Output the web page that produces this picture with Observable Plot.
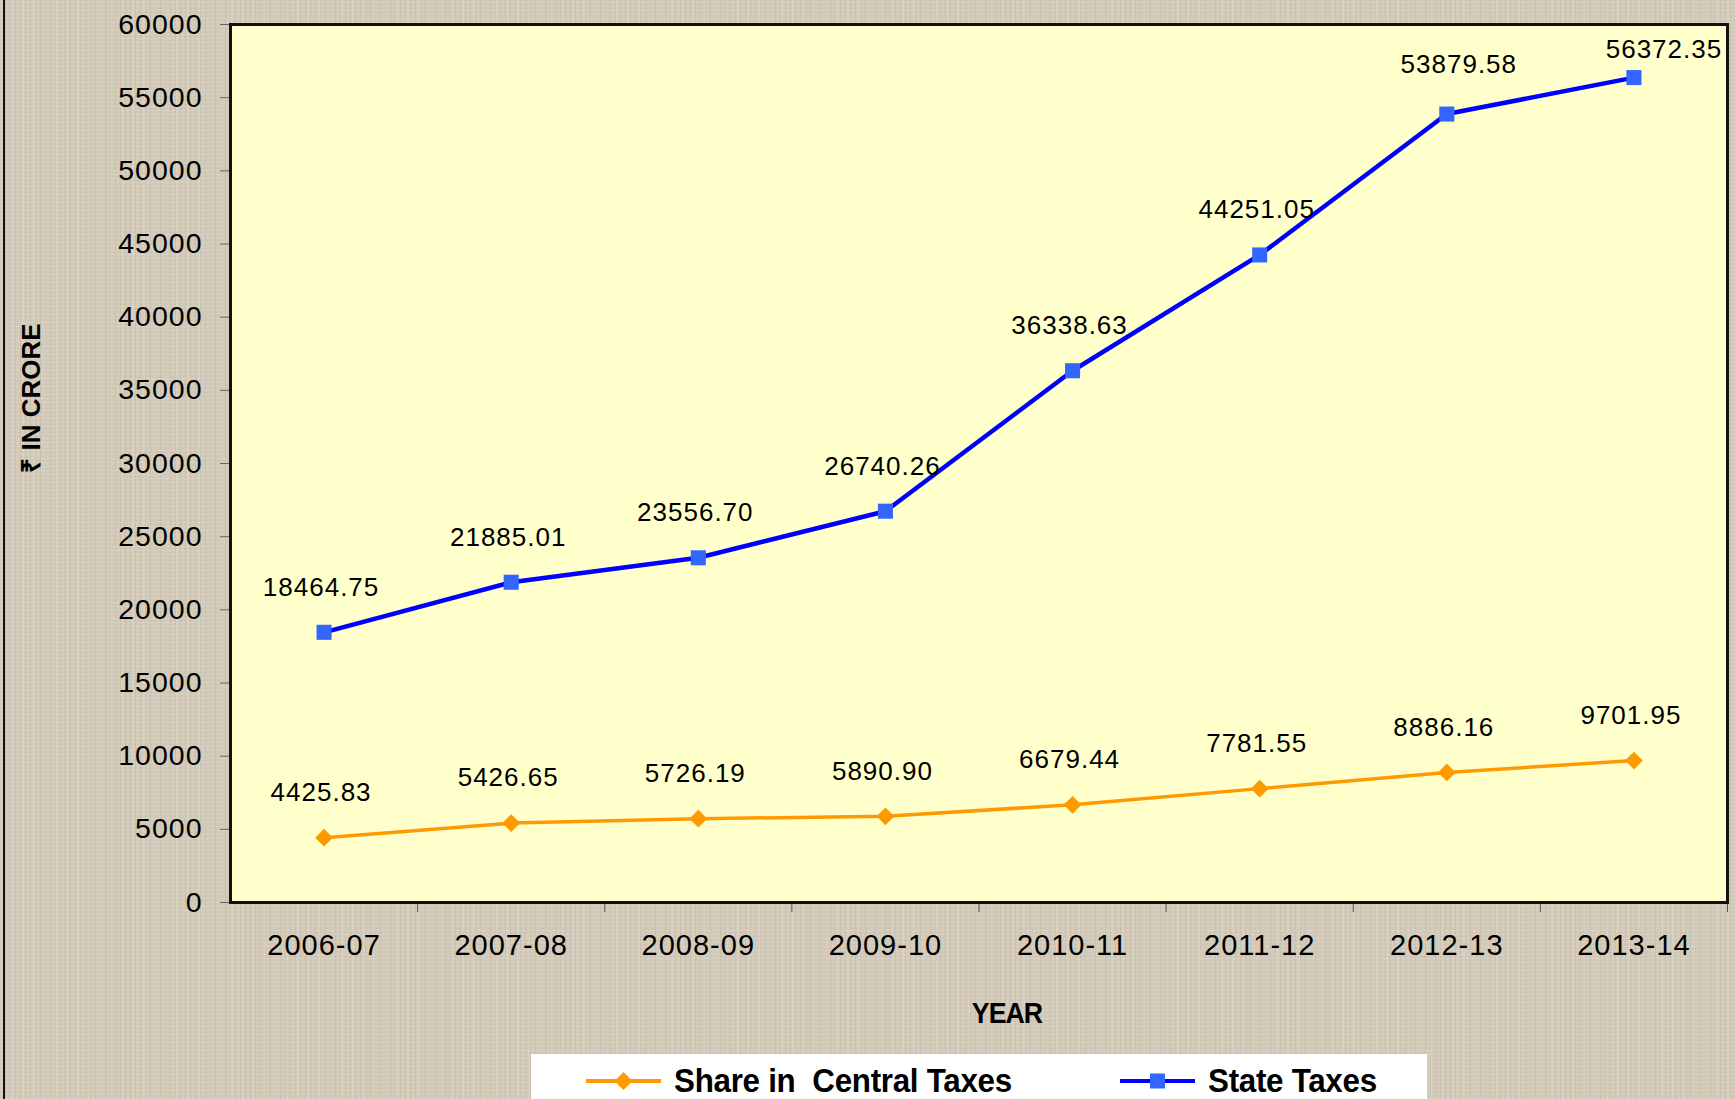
<!DOCTYPE html>
<html><head><meta charset="utf-8">
<script src="https://cdn.jsdelivr.net/npm/d3@7"></script>
<script src="https://cdn.jsdelivr.net/npm/@observablehq/plot@0.6"></script>
<style>
html,body{margin:0;padding:0;}
body{width:1735px;height:1099px;overflow:hidden;position:relative;
  background-color:#d3c9b7;
  background-image:
    repeating-linear-gradient(0deg, rgba(255,255,255,.13) 0 1px, transparent 1px 4px),
    repeating-linear-gradient(90deg, rgba(110,95,75,.09) 0 1px, transparent 1px 5px),
    repeating-linear-gradient(90deg, rgba(255,255,255,.10) 0 2px, transparent 2px 11px);
  font-family:"Liberation Sans", Arial, sans-serif;}
#chart{position:absolute;left:0;top:0;}
#chart svg text{letter-spacing:1px;}
#border{position:absolute;left:3px;top:0;width:2px;height:1099px;background:#111;}
.abs{position:absolute;white-space:nowrap;color:#000;}
#ytitle{left:30px;top:398px;transform:translate(-50%,-50%) rotate(-90deg);font-weight:bold;font-size:26px;}
#xtitle{left:1007px;top:1013px;transform:translate(-50%,-50%) scaleX(0.92);font-weight:bold;font-size:29px;letter-spacing:-1px;}
#legend{left:531px;top:1054px;width:896px;height:60px;background:#fff;}
.legtext{font-weight:bold;font-size:33px;top:1081px;transform-origin:0 50%;transform:translateY(-50%) scaleX(0.95);letter-spacing:-0.3px;}
</style></head><body>
<div id="border"></div>
<div id="legend" class="abs"></div>
<div id="chart"></div>
<div id="ytitle" class="abs">₹ IN CRORE</div>
<div id="xtitle" class="abs">YEAR</div>
<script>
const years = ["2006-07","2007-08","2008-09","2009-10","2010-11","2011-12","2012-13","2013-14"];
const centralTaxes = [4425.83, 5426.65, 5726.19, 5890.90, 6679.44, 7781.55, 8886.16, 9701.95];
const stateTaxes = [18464.75, 21885.01, 23556.70, 26740.26, 36338.63, 44251.05, 53879.58, 56372.35];
const yTicks = [0,5000,10000,15000,20000,25000,30000,35000,40000,45000,50000,55000,60000];
const seriesNames = ["Share in  Central Taxes", "State Taxes"];
const seriesColors = ["#ff9900", "#0000ff"];
const markerColors = ["#ff9900", "#3366ff"];

const data = years.map((year, k) => ({i: k + 1, year, central: centralTaxes[k], state: stateTaxes[k]}));
const centers = years.map((_, k) => k + 1);
const boundaries = years.map((_, k) => k + 1.5);
const fmt = v => v.toFixed(2);

const chart = Plot.plot({
  width: 1735, height: 1099,
  marginLeft: 230, marginRight: 8, marginTop: 24, marginBottom: 197,
  style: {background: "transparent", fontFamily: "'Liberation Sans', Arial, sans-serif", overflow: "visible", color: "#000"},
  x: {domain: [0.5, years.length + 0.5], axis: null},
  y: {domain: [0, 60000], axis: null},
  marks: [
    Plot.frame({fill: "#ffffcc", stroke: "none"}),
    Plot.axisY({ticks: yTicks, tickSize: 10, tickPadding: 18, stroke: "#666", fontSize: 28.5, tickFormat: d => String(d), label: null}),
    Plot.axisX({ticks: centers, tickFormat: i => years[i - 1], tickSize: 0, tickPadding: 32, fontSize: 29, label: null}),
    Plot.axisX({ticks: boundaries, tickSize: 10, tickFormat: () => "", label: null, stroke: "#555"}),
    Plot.line(data, {x: "i", y: "central", stroke: seriesColors[0], strokeWidth: 3.5}),
    Plot.dot(data, {x: "i", y: "central", symbol: "diamond2", r: 8, fill: markerColors[0], stroke: "none"}),
    Plot.line(data, {x: "i", y: "state", stroke: seriesColors[1], strokeWidth: 4.5}),
    Plot.dot(data, {x: "i", y: "state", symbol: "square", r: 8.5, fill: markerColors[1], stroke: "none"}),
    Plot.text(data, {x: "i", y: "central", text: d => fmt(d.central), dy: -45, dx: -3, fontSize: 26, fill: "#000"}),
    Plot.text(data.slice(0, 6), {x: "i", y: "state", text: d => fmt(d.state), dy: -45, dx: -3, fontSize: 26, fill: "#000"}),
    Plot.text(data.slice(6, 7), {x: "i", y: "state", text: d => fmt(d.state), dy: -49, dx: 12, fontSize: 26, fill: "#000"}),
    Plot.text(data.slice(7, 8), {x: "i", y: "state", text: d => fmt(d.state), dy: -28, dx: 30, fontSize: 26, fill: "#000"}),
    Plot.frame({stroke: "#111", strokeWidth: 3})
  ]
});
document.getElementById("chart").appendChild(chart);

// legend
const legendItems = [
  {name: seriesNames[0], color: seriesColors[0], marker: markerColors[0], symbol: "diamond", lineX: 586, textX: 674},
  {name: seriesNames[1], color: seriesColors[1], marker: markerColors[1], symbol: "square", lineX: 1120, textX: 1208}
];
for (const it of legendItems) {
  const svg = d3.create("svg").attr("width", 80).attr("height", 24)
    .style("position", "absolute").style("left", it.lineX + "px").style("top", (1081 - 12) + "px");
  svg.append("line").attr("x1", 0).attr("x2", 75).attr("y1", 12).attr("y2", 12)
    .attr("stroke", it.color).attr("stroke-width", 4);
  if (it.symbol === "square") {
    svg.append("rect").attr("x", 37.5 - 7.5).attr("y", 4.5).attr("width", 15).attr("height", 15).attr("fill", it.marker);
  } else {
    svg.append("path").attr("d", "M37.5,3 L46.5,12 L37.5,21 L28.5,12 Z").attr("fill", it.marker);
  }
  document.body.appendChild(svg.node());
  const t = document.createElement("div");
  t.className = "abs legtext";
  t.style.left = it.textX + "px";
  t.textContent = it.name;
  t.style.whiteSpace = "pre";
  document.body.appendChild(t);
}
</script>
</body></html>
